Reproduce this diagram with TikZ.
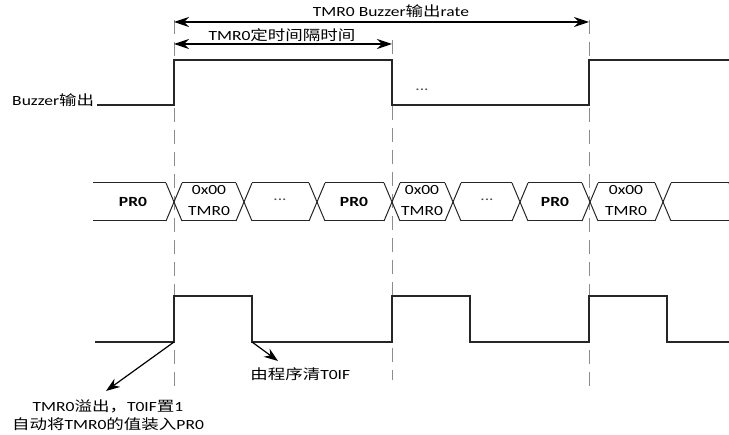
\documentclass[tikz,border=0pt]{standalone}
\usepackage{fontspec}
\setmainfont{Carlito}
\newfontfamily\cjk{Noto Sans CJK SC}
\usetikzlibrary{arrows.meta}

\begin{document}
\begin{tikzpicture}[x=1pt,y=-1pt,
  txt/.style={inner sep=0pt,xscale=1.25,font=\fontsize{14}{18}\selectfont},
  sig/.style={line width=1.3pt,color=black!85},
  bus/.style={line width=1pt,color=black!85},
  guide/.style={dash pattern=on 14pt off 8pt,color=black!45,line width=0.8pt},
  span/.style={arrows={Stealth[length=15pt,width=10pt]-Stealth[length=15pt,width=10pt]},line width=1.2pt},
  note/.style={arrows={-Stealth[length=14pt,width=10pt]},line width=1.2pt}]

\useasboundingbox (0,0) rectangle (729,435);

% guide lines
\draw [guide] (174,20) -- (174,390);
\draw [guide] (392,40) -- (392,380);
\draw [guide] (589,20) -- (589,392);

% intervals
\draw [span] (174,22) -- (589,22);
\node [txt] (rate) at (391,11) {TMR0 Buzzer{\cjk 输出}rate};
\draw [span] (174,44) -- (392,44);
\node [txt] (period) at (282,35) {TMR0{\cjk 定时间隔时间}};

% buzzer output
\node [txt, anchor=west] (buzz) at (12,100) {Buzzer{\cjk 输出}};
\draw [sig] (97,105) -- (174,105) -- (174,60) -- (392,60) -- (392,105) -- (589,105) -- (589,60) -- (729,60);
\node [txt, color=black!70] (dots1) at (422,90) {...};

% TMR0 bus
\foreach \xa/\xb in {93/166, 182/236, 252/309, 325/384, 400/445, 461/512, 528/582, 598/655, 671/729}
{
  \draw [bus] (\xa,183) -- (\xb,183);
  \draw [bus] (\xa,221) -- (\xb,221);
}
\foreach \xc in {174,244,317,392,453,520,590,663,737}
{
  \draw [bus] (\xc-8,183) -- (\xc+8,221);
  \draw [bus] (\xc-8,221) -- (\xc+8,183);
}

\node [txt, font=\fontsize{14}{18}\bfseries] (pr1) at (133,202) {PR0};
\node [txt, font=\fontsize{14}{18}\bfseries] (pr2) at (354,202) {PR0};
\node [txt, font=\fontsize{14}{18}\bfseries] (pr3) at (555,202) {PR0};
\node [txt, align=center, font=\fontsize{14}{21}\selectfont] (tm1) at (209,201) {0x00\\TMR0};
\node [txt, align=center, font=\fontsize{14}{21}\selectfont] (tm2) at (422,201) {0x00\\TMR0};
\node [txt, align=center, font=\fontsize{14}{21}\selectfont] (tm3) at (626,201) {0x00\\TMR0};
\node [txt, color=black!70] (dots2) at (280,200) {...};
\node [txt, color=black!70] (dots3) at (487,200) {...};

% T0IF
\draw [sig] (95,342) -- (174,342) -- (174,296) -- (252,296) -- (252,342) -- (392,342) -- (392,296) -- (470,296) -- (470,342) -- (589,342) -- (589,296) -- (667,296) -- (667,342) -- (729,342);

\coordinate (ovf) at (174,342);
\coordinate (ovfend) at (106,391);
\coordinate (clr) at (252,342);
\coordinate (clrend) at (278,361);
\draw [note] (ovf) -- (ovfend);
\draw [note] (clr) -- (clrend);

\node [txt, align=center] (ovfnote) at (108,415) {TMR0{\cjk 溢出，}T0IF{\cjk 置}1\\{\cjk 自动将}TMR0{\cjk 的值装入}PR0};
\node [txt, anchor=west] (clrnote) at (250,374) {{\cjk 由程序清}T0IF};

\end{tikzpicture}
\end{document}
